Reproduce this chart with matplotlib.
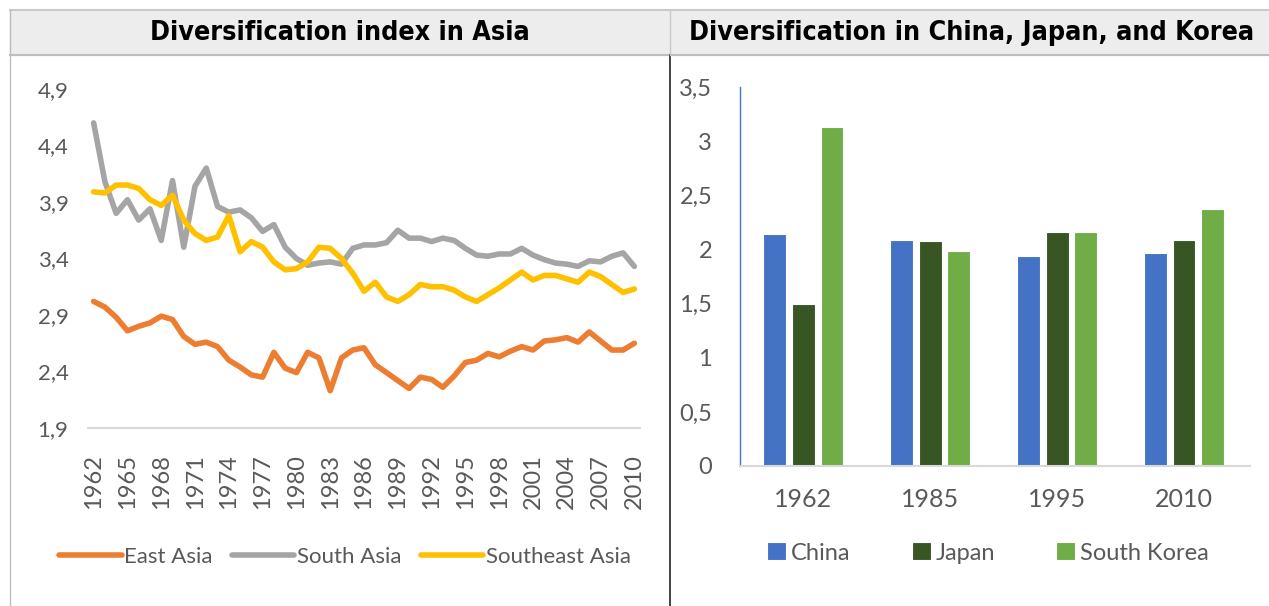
import numpy as np
import matplotlib
matplotlib.use('Agg')
import matplotlib.pyplot as plt
from matplotlib.lines import Line2D
from matplotlib.patches import Rectangle

# data for the line chart (1962-2010)
years = list(range(1962, 2011))
east_asia = [3.02, 2.97, 2.88, 2.76, 2.80, 2.83, 2.89, 2.86, 2.71, 2.64,
             2.66, 2.62, 2.50, 2.44, 2.37, 2.35, 2.57, 2.43, 2.39, 2.57,
             2.52, 2.23, 2.52, 2.59, 2.61, 2.46, 2.39, 2.32, 2.25, 2.35,
             2.33, 2.26, 2.36, 2.48, 2.50, 2.56, 2.53, 2.58, 2.62, 2.59,
             2.67, 2.68, 2.70, 2.66, 2.75, 2.67, 2.59, 2.59, 2.65]
south_asia = [4.60, 4.08, 3.80, 3.92, 3.74, 3.84, 3.56, 4.09, 3.50, 4.04,
              4.20, 3.86, 3.81, 3.83, 3.76, 3.64, 3.70, 3.50, 3.40, 3.34,
              3.36, 3.37, 3.35, 3.49, 3.52, 3.52, 3.54, 3.65, 3.58, 3.58,
              3.55, 3.58, 3.56, 3.49, 3.43, 3.42, 3.44, 3.44, 3.49, 3.43,
              3.39, 3.36, 3.35, 3.33, 3.38, 3.37, 3.42, 3.45, 3.33]
southeast_asia = [3.99, 3.98, 4.05, 4.05, 4.02, 3.92, 3.87, 3.96, 3.74, 3.62,
                  3.56, 3.59, 3.78, 3.46, 3.55, 3.50, 3.37, 3.30, 3.31, 3.37,
                  3.50, 3.49, 3.40, 3.27, 3.11, 3.19, 3.06, 3.02, 3.08, 3.17,
                  3.15, 3.15, 3.12, 3.06, 3.02, 3.08, 3.14, 3.21, 3.28, 3.21,
                  3.25, 3.25, 3.22, 3.19, 3.28, 3.24, 3.17, 3.10, 3.13]

# data for the bar chart
bar_years = ['1962', '1985', '1995', '2010']
china = [2.14, 2.09, 1.94, 1.97]
japan = [1.50, 2.08, 2.16, 2.09]
korea = [3.13, 1.99, 2.16, 2.37]

plt.rcParams['font.family'] = ['Lato', 'DejaVu Sans']
txt = '#595959'

fig = plt.figure(figsize=(12.69, 6.06), dpi=100)

# header bands and panel borders
H = 606.0
W = 1269.0
fig.patches.append(Rectangle((10 / W, 1 - 55 / H), 1 - 10 / W, 45 / H,
                             transform=fig.transFigure, color='#EDEDED', zorder=0))
fig.lines.append(Line2D([10 / W, 1], [1 - 10 / H] * 2, transform=fig.transFigure,
                        color='#C9C9C9', lw=1.5))
fig.lines.append(Line2D([10 / W, 1], [1 - 55 / H] * 2, transform=fig.transFigure,
                        color='#BDBDBD', lw=1.5))
fig.lines.append(Line2D([10 / W] * 2, [0, 1 - 10 / H], transform=fig.transFigure,
                        color='#BDBDBD', lw=1))
fig.lines.append(Line2D([670 / W] * 2, [0, 1 - 55 / H], transform=fig.transFigure,
                        color='#222222', lw=1.2))
fig.lines.append(Line2D([670 / W] * 2, [1 - 55 / H, 1 - 10 / H], transform=fig.transFigure,
                        color='#C9C9C9', lw=1))

head = dict(ha='center', va='center', fontsize=19.3, fontweight='bold',
            fontstretch='condensed', family=['DejaVu Sans'], color='black')
fig.text(340 / W, 1 - 33 / H, 'Diversification index in Asia', **head)
fig.text(972 / W, 1 - 33 / H, 'Diversification in China, Japan, and Korea', **head)

# ---- left: line chart ----
ax1 = fig.add_axes([88 / W, 1 - 428 / H, 552 / W, 339 / H])
x = np.arange(len(years))
ax1.plot(x, east_asia, color='#ED7D31', lw=4, label='East Asia', solid_capstyle='round')
ax1.plot(x, south_asia, color='#A5A5A5', lw=4, label='South Asia', solid_capstyle='round')
ax1.plot(x, southeast_asia, color='#FFC000', lw=4, label='Southeast Asia', solid_capstyle='round')
ax1.set_xlim(-0.5, len(years) - 0.5)
ax1.set_ylim(1.9, 4.9)
yt = [1.9, 2.4, 2.9, 3.4, 3.9, 4.4, 4.9]
ax1.set_yticks(yt)
ax1.set_yticklabels([f'{v:.1f}'.replace('.', ',') for v in yt])
ax1.set_xticks(x[::3])
ax1.set_xticklabels([str(y) for y in years[::3]], rotation=90)
for s in ['top', 'right', 'left']:
    ax1.spines[s].set_visible(False)
ax1.spines['bottom'].set_color('#D9D9D9')
ax1.spines['bottom'].set_linewidth(1.5)
ax1.tick_params(axis='both', length=0, colors=txt)
ax1.tick_params(axis='y', pad=14, labelsize=16)
ax1.tick_params(axis='x', pad=19, labelsize=17)
ax1.set_facecolor('none')

fig.legend(*ax1.get_legend_handles_labels(), loc='center', bbox_to_anchor=(345 / W, 1 - 557 / H),
           ncol=3, frameon=False, fontsize=16, labelcolor=txt, handlelength=2.8,
           handletextpad=0.1, columnspacing=0.9)

# ---- right: bar chart ----
ax2 = fig.add_axes([740 / W, 1 - 466 / H, 510 / W, 379 / H])
bx = np.arange(len(bar_years))
bw = 0.18
off = 0.225
ax2.bar(bx - off, china, bw, color='#4472C4', edgecolor='white', lw=0.8, label='China')
ax2.bar(bx, japan, bw, color='#375623', edgecolor='white', lw=0.8, label='Japan')
ax2.bar(bx + off, korea, bw, color='#70AD47', edgecolor='white', lw=0.8, label='South Korea')
ax2.set_xlim(-0.5, 3.52)
ax2.set_ylim(0, 3.5)
yt2 = [0, 0.5, 1, 1.5, 2, 2.5, 3, 3.5]
ax2.set_yticks(yt2)
ax2.set_yticklabels([('%g' % v).replace('.', ',') for v in yt2])
ax2.set_xticks(bx)
ax2.set_xticklabels(bar_years)
for s in ['top', 'right']:
    ax2.spines[s].set_visible(False)
ax2.spines['left'].set_color('#4472C4')
ax2.spines['left'].set_linewidth(1)
ax2.spines['bottom'].set_color('#D9D9D9')
ax2.spines['bottom'].set_linewidth(1.5)
ax2.tick_params(axis='both', length=0, colors=txt)
ax2.tick_params(axis='y', pad=20, labelsize=17)
ax2.tick_params(axis='x', pad=16, labelsize=18)
ax2.set_facecolor('none')

fig.legend(*ax2.get_legend_handles_labels(), loc='center', bbox_to_anchor=(988 / W, 1 - 553 / H),
           ncol=3, frameon=False, fontsize=17, labelcolor=txt, handlelength=0.8,
           handleheight=0.8, handletextpad=0.2, columnspacing=2.6)

fig.savefig('out.png', dpi=100)
